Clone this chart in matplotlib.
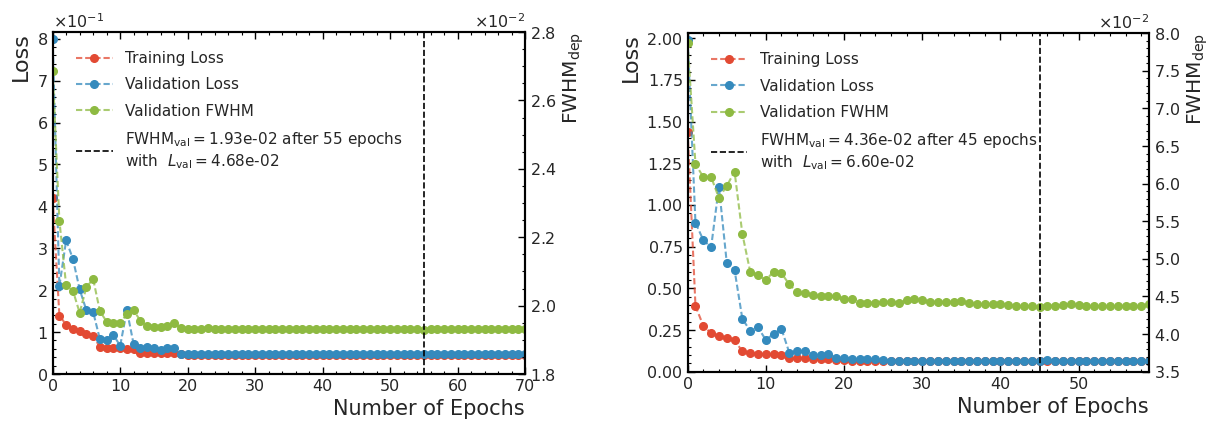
import numpy as np
import matplotlib.pyplot as plt
from matplotlib.colors import to_rgb
from matplotlib.ticker import MultipleLocator

plt.rcParams['font.family'] = 'DejaVu Sans'
plt.rcParams['mathtext.fontset'] = 'dejavusans'

RED = '#E24A33'
BLUE = '#348ABD'
GREEN = '#8EBA42'
TEXT = '#262626'

# first run, 71 epochs
train_a = [0.419, 0.139, 0.118, 0.108, 0.102, 0.095, 0.090, 0.065, 0.063, 0.062,
           0.061, 0.060, 0.059, 0.051, 0.050, 0.050, 0.050, 0.050, 0.050, 0.0466,
           0.0465, 0.0464, 0.0464, 0.0464, 0.0463, 0.0463, 0.0463, 0.0463, 0.0463, 0.0463,
           0.0463, 0.0463, 0.0463, 0.0463, 0.0463, 0.0463, 0.0463, 0.0463, 0.0463, 0.0463,
           0.0463, 0.0463, 0.0463, 0.0463, 0.0463, 0.0463, 0.0463, 0.0463, 0.0463, 0.0463,
           0.0463, 0.0463, 0.0463, 0.0463, 0.0463, 0.0463, 0.0463, 0.0463, 0.0463, 0.0463,
           0.0463, 0.0463, 0.0463, 0.0463, 0.0463, 0.0463, 0.0463, 0.0463, 0.0463, 0.0463,
           0.0463]
val_a = [0.800, 0.210, 0.319, 0.275, 0.202, 0.152, 0.148, 0.083, 0.081, 0.094,
         0.067, 0.152, 0.071, 0.063, 0.065, 0.061, 0.057, 0.063, 0.063, 0.048,
         0.0471, 0.0470, 0.0470, 0.0469, 0.0469, 0.0469, 0.0469, 0.0469, 0.0469, 0.0469,
         0.0469, 0.0469, 0.0468, 0.0468, 0.0468, 0.0468, 0.0468, 0.0468, 0.0468, 0.0468,
         0.0468, 0.0468, 0.0468, 0.0468, 0.0468, 0.0468, 0.0468, 0.0468, 0.0468, 0.0468,
         0.0468, 0.0468, 0.0468, 0.0468, 0.0468, 0.0468, 0.0468, 0.0468, 0.0468, 0.0468,
         0.0468, 0.0468, 0.0468, 0.0468, 0.0468, 0.0468, 0.0468, 0.0468, 0.0468, 0.0468,
         0.0468]
fwhm_a = [0.02686, 0.02248, 0.02059, 0.02044, 0.01979, 0.02054, 0.02078, 0.01984, 0.01953, 0.01950,
          0.01950, 0.01975, 0.01986, 0.01956, 0.01940, 0.01938, 0.01938, 0.01940, 0.01948, 0.01935,
          0.01932, 0.01932, 0.01932, 0.01935, 0.01932, 0.01932, 0.01931, 0.01931, 0.01931, 0.01931,
          0.01931, 0.01931, 0.01931, 0.01931, 0.01931, 0.01931, 0.01931, 0.01931, 0.01931, 0.01931,
          0.01931, 0.01931, 0.01931, 0.01931, 0.01931, 0.01931, 0.01931, 0.01931, 0.01931, 0.01931,
          0.01931, 0.01931, 0.01931, 0.01931, 0.01931, 0.01930, 0.01931, 0.01931, 0.01931, 0.01931,
          0.01931, 0.01931, 0.01931, 0.01931, 0.01931, 0.01931, 0.01931, 0.01931, 0.01931, 0.01931,
          0.01931]
best_a = 55

# second run, 60 epochs
train_b = [1.44, 0.394, 0.276, 0.230, 0.214, 0.200, 0.188, 0.122, 0.112, 0.108,
           0.106, 0.104, 0.102, 0.084, 0.080, 0.080, 0.078, 0.077, 0.076, 0.070,
           0.068, 0.067, 0.066, 0.066, 0.065, 0.065, 0.065, 0.065, 0.065, 0.065,
           0.065, 0.065, 0.065, 0.065, 0.065, 0.065, 0.065, 0.065, 0.065, 0.065,
           0.065, 0.065, 0.065, 0.065, 0.065, 0.065, 0.065, 0.065, 0.065, 0.065,
           0.065, 0.065, 0.065, 0.065, 0.065, 0.065, 0.065, 0.065, 0.065, 0.065]
val_b = [1.99, 0.893, 0.790, 0.746, 1.110, 0.654, 0.610, 0.316, 0.246, 0.266,
         0.190, 0.228, 0.256, 0.114, 0.122, 0.126, 0.100, 0.100, 0.104, 0.084,
         0.084, 0.078, 0.075, 0.075, 0.075, 0.068, 0.067, 0.067, 0.067, 0.067,
         0.067, 0.066, 0.066, 0.066, 0.066, 0.066, 0.066, 0.066, 0.066, 0.066,
         0.066, 0.066, 0.066, 0.066, 0.066, 0.066, 0.068, 0.066, 0.066, 0.066,
         0.066, 0.066, 0.066, 0.066, 0.066, 0.066, 0.067, 0.066, 0.066, 0.066]
fwhm_b = [0.0787, 0.0626, 0.0609, 0.0609, 0.0581, 0.0597, 0.0616, 0.0533, 0.0483, 0.0478,
          0.0472, 0.0483, 0.0481, 0.0466, 0.0456, 0.0454, 0.0452, 0.0450, 0.0451, 0.0450,
          0.0447, 0.0446, 0.0442, 0.0442, 0.0442, 0.0443, 0.0443, 0.0442, 0.0445, 0.0446,
          0.0445, 0.0443, 0.0443, 0.0443, 0.0443, 0.0444, 0.0441, 0.0440, 0.0440, 0.0440,
          0.0440, 0.0439, 0.0437, 0.0437, 0.0437, 0.0436, 0.0438, 0.0438, 0.0439, 0.0440,
          0.0439, 0.0437, 0.0437, 0.0437, 0.0437, 0.0437, 0.0438, 0.0438, 0.0437, 0.0440]
best_b = 45


def draw(ax, train, val, fwhm, best, loss_step, loss_minor, fwhm_lim, fwhm_step, fwhm_minor):
    epochs = np.arange(len(train))
    kw = dict(ls='--', dashes=(3, 1.4), marker='o', ms=5.5, lw=1.5)
    for y, c, lab in [(train, RED, 'Training Loss'), (val, BLUE, 'Validation Loss')]:
        ax.plot(epochs, y, color=(*to_rgb(c), 0.75), mfc=c, mec=c, label=lab, **kw)
    ax2 = ax.twinx()
    ax2.plot(epochs, fwhm, color=(*to_rgb(GREEN), 0.75), mfc=GREEN, mec=GREEN,
             label='Validation FWHM', **kw)
    lab = (r'FWHM$_{\rm val} = $' + f'{fwhm[best]:.2e} after {best} epochs\n'
           + r'with $\ L_{\rm val} = $' + f'{val[best]:.2e}')
    ax2.axvline(best, color='k', ls='--', lw=1.2, label=lab)

    ax.set_xlim(0, len(train) - 1)
    ax.set_ylim(0, 1.02 * max(val))
    ax2.set_ylim(*fwhm_lim)

    ax.xaxis.set_major_locator(MultipleLocator(10))
    ax.xaxis.set_minor_locator(MultipleLocator(2))
    ax.yaxis.set_major_locator(MultipleLocator(loss_step))
    ax.yaxis.set_minor_locator(MultipleLocator(loss_minor))
    ax2.yaxis.set_major_locator(MultipleLocator(fwhm_step))
    ax2.yaxis.set_minor_locator(MultipleLocator(fwhm_minor))
    ax.ticklabel_format(axis='y', style='sci', scilimits=(0, 0), useMathText=True)
    ax2.ticklabel_format(axis='y', style='sci', scilimits=(0, 0), useMathText=True)

    ax.tick_params(which='both', direction='in', top=True, right=False,
                   labelsize=11.5, labelcolor=TEXT)
    ax2.tick_params(which='both', direction='in', right=True, left=False,
                    labelsize=11.5, labelcolor=TEXT)
    for a in (ax, ax2):
        a.tick_params(which='major', length=5, width=1)
        a.tick_params(which='minor', length=2.5, width=0.8)
        a.yaxis.get_offset_text().set_fontsize(11.5)
        a.yaxis.get_offset_text().set_color(TEXT)
        for s in a.spines.values():
            s.set_linewidth(1.5)

    ax.set_xlabel('Number of Epochs', loc='right', fontsize=15, color=TEXT)
    ax.set_ylabel('Loss', loc='top', fontsize=16, color=TEXT)
    ax2.set_ylabel(r'FWHM$_{\rm dep}$', loc='top', fontsize=14.5, color=TEXT)

    h1, l1 = ax.get_legend_handles_labels()
    h2, l2 = ax2.get_legend_handles_labels()
    leg = ax2.legend(h1 + h2, l1 + l2, loc='upper left', bbox_to_anchor=(0.02, 0.985),
                     frameon=False, fontsize=11, handlelength=2.4, labelspacing=0.75)
    for t in leg.get_texts():
        t.set_color(TEXT)


fig = plt.figure(figsize=(12.16, 4.23), dpi=100)
ax_a = fig.add_axes([0.0433, 0.1158, 0.3885, 0.8085])
ax_b = fig.add_axes([0.5655, 0.1213, 0.3794, 0.800])

draw(ax_a, train_a, val_a, fwhm_a, best_a, 0.1, 0.02, (0.018, 0.028), 0.002, 0.0005)
draw(ax_b, train_b, val_b, fwhm_b, best_b, 0.25, 0.05, (0.035, 0.080), 0.005, 0.001)

fig.savefig('out.png', dpi=100)
